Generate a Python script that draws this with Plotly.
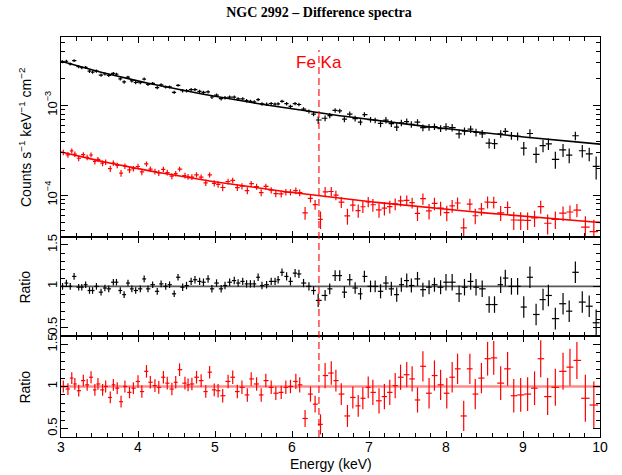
import numpy as np
import plotly.graph_objects as go
from plotly.subplots import make_subplots

# ---------------- data ----------------
energy_black = [3.02, 3.07, 3.12, 3.17, 3.23, 3.27, 3.32, 3.37, 3.41, 3.46, 3.52, 3.57, 3.62, 3.68, 3.72,
                3.77, 3.82, 3.87, 3.92, 3.97, 4.03, 4.08, 4.13, 4.19, 4.25, 4.30, 4.36, 4.41, 4.47, 4.52,
                4.58, 4.63, 4.69, 4.74, 4.80, 4.85, 4.91, 4.96, 5.02, 5.08, 5.13, 5.19, 5.25, 5.30, 5.36,
                5.41, 5.46, 5.51, 5.56, 5.61, 5.67, 5.73, 5.78, 5.82, 5.87, 5.93, 5.98, 6.04, 6.09, 6.15,
                6.22, 6.28, 6.34, 6.43, 6.49, 6.56, 6.62,
                6.68, 6.75, 6.82, 6.89, 6.94, 7.02, 7.08, 7.15, 7.22, 7.29, 7.36, 7.42, 7.49, 7.55, 7.63,
                7.70, 7.78, 7.85, 7.93, 8.00, 8.08, 8.17, 8.24, 8.32, 8.39, 8.47, 8.56, 8.63, 8.71, 8.77,
                8.85, 8.93, 9.01, 9.09, 9.17, 9.26, 9.33, 9.42, 9.52, 9.60, 9.68, 9.77, 9.86, 9.95]
ratio_black = [1.00, 1.04, 1.00, 1.12, 0.99, 0.99, 1.02, 0.95, 0.95, 1.00, 0.93, 0.98, 0.97, 1.05, 1.05,
               0.95, 0.90, 1.04, 0.97, 0.95, 0.97, 1.09, 0.97, 1.02, 0.94, 1.03, 1.00, 1.02, 0.91, 1.11,
               0.99, 1.01, 1.06, 1.08, 1.06, 1.05, 1.09, 0.97, 1.04, 0.97, 1.01, 1.05, 1.07, 1.04, 1.06,
               1.03, 1.03, 1.03, 1.11, 1.01, 1.02, 1.06, 1.06, 1.08, 1.17, 1.12, 1.06, 1.16, 1.15, 1.04,
               1.00, 0.95, 0.83, 0.89, 0.97, 1.13, 1.13,
               0.93, 1.08, 0.98, 0.91, 1.12, 1.00, 1.00, 0.94, 1.04, 0.97, 0.90, 1.02, 1.07, 1.01, 1.09,
               0.96, 0.99, 1.02, 0.99, 1.05, 1.05, 0.91, 0.99, 1.06, 0.99, 0.97, 0.78, 0.78, 1.02, 1.10,
               1.00, 1.00, 0.75, 1.11, 0.66, 0.84, 0.89, 0.61, 0.79, 0.70, 1.17, 0.81, 0.76, 0.56]
ratio_err_black = [0.04, 0.04, 0.04, 0.04, 0.04, 0.04, 0.04, 0.04, 0.04, 0.04, 0.04, 0.04, 0.04, 0.04, 0.04,
                   0.04, 0.04, 0.04, 0.04, 0.04, 0.04, 0.04, 0.04, 0.04, 0.04, 0.04, 0.04, 0.04, 0.04, 0.04,
                   0.045, 0.045, 0.045, 0.045, 0.045, 0.045, 0.045, 0.045, 0.045, 0.045, 0.045, 0.045, 0.045, 0.045, 0.045,
                   0.045, 0.045, 0.045, 0.045, 0.045, 0.045, 0.045, 0.045, 0.045, 0.045, 0.05, 0.05, 0.05, 0.05, 0.05,
                   0.05, 0.05, 0.08, 0.065, 0.065, 0.065, 0.065,
                   0.07, 0.07, 0.07, 0.07, 0.07, 0.07, 0.07, 0.085, 0.085, 0.085, 0.085, 0.085, 0.085, 0.085, 0.085,
                   0.085, 0.085, 0.085, 0.085, 0.10, 0.10, 0.10, 0.10, 0.10, 0.10, 0.10, 0.10, 0.10, 0.10, 0.10,
                   0.10, 0.10, 0.13, 0.13, 0.13, 0.13, 0.13, 0.13, 0.13, 0.13, 0.13, 0.13, 0.13, 0.16]

energy_red = [3.03, 3.09, 3.14, 3.18, 3.23, 3.29, 3.34, 3.39, 3.44, 3.48, 3.54, 3.58, 3.64, 3.68, 3.73,
              3.78, 3.83, 3.89, 3.94, 4.00, 4.05, 4.11, 4.16, 4.22, 4.27, 4.33, 4.38, 4.44, 4.49, 4.54,
              4.61, 4.65, 4.70, 4.76, 4.82, 4.88, 4.93, 4.99, 5.04, 5.10, 5.17, 5.23, 5.29, 5.35, 5.42,
              5.47, 5.54, 5.60, 5.66, 5.73, 5.79, 5.86, 5.92, 5.98, 6.05, 6.10, 6.17, 6.24, 6.30, 6.37,
              6.43, 6.51, 6.57,
              6.64, 6.72, 6.79, 6.86, 6.92, 6.99, 7.05, 7.13, 7.20, 7.27, 7.34, 7.41, 7.49, 7.56, 7.63,
              7.70, 7.78, 7.85, 7.93, 8.01, 8.08, 8.15, 8.23, 8.31, 8.38, 8.46, 8.54, 8.62, 8.71, 8.80,
              8.88, 8.97, 9.06, 9.15, 9.23, 9.32, 9.42, 9.52, 9.61, 9.70, 9.81, 9.92]
ratio_red = [1.00, 0.97, 1.10, 1.03, 0.95, 1.07, 1.02, 1.11, 0.96, 1.03, 0.96, 1.00, 0.87, 1.02, 0.98,
             0.82, 1.00, 0.93, 0.98, 1.06, 0.94, 1.18, 1.05, 1.01, 0.99, 1.11, 1.04, 0.97, 1.05, 1.20,
             1.04, 1.02, 1.03, 1.11, 1.07, 0.94, 1.17, 0.96, 0.95, 0.89, 1.06, 1.11, 0.94, 0.99, 0.90,
             1.09, 1.03, 0.90, 1.07, 0.99, 0.92, 0.93, 0.99, 1.00, 1.06, 1.02, 0.62, 0.91, 0.79, 0.55,
             1.13, 1.16, 1.07,
             0.91, 0.65, 0.87, 0.77, 0.86, 0.99, 0.93, 0.83, 0.88, 0.93, 1.01, 1.11, 1.14, 1.09, 0.84,
             1.24, 0.92, 1.13, 1.02, 0.92, 1.11, 1.21, 0.65, 1.21, 0.91, 1.10, 1.33, 1.34, 1.04, 1.21,
             0.89, 0.90, 0.91, 0.98, 1.33, 0.88, 0.99, 1.18, 1.23, 1.31, 0.86, 0.78]
ratio_err_red = [0.07, 0.07, 0.07, 0.07, 0.07, 0.07, 0.07, 0.07, 0.07, 0.07, 0.07, 0.07, 0.07, 0.07, 0.07,
                 0.07, 0.07, 0.07, 0.07, 0.075, 0.075, 0.075, 0.075, 0.075, 0.075, 0.075, 0.075, 0.075, 0.075, 0.075,
                 0.075, 0.075, 0.075, 0.075, 0.075, 0.075, 0.075, 0.075, 0.08, 0.08, 0.08, 0.08, 0.08, 0.08, 0.08,
                 0.08, 0.08, 0.08, 0.08, 0.08, 0.08, 0.08, 0.08, 0.08, 0.09, 0.09, 0.10, 0.09, 0.10, 0.12,
                 0.15, 0.14, 0.13,
                 0.13, 0.13, 0.13, 0.13, 0.13, 0.13, 0.15, 0.15, 0.15, 0.15, 0.15, 0.15, 0.15, 0.15, 0.15,
                 0.18, 0.18, 0.18, 0.18, 0.18, 0.18, 0.18, 0.18, 0.18, 0.18, 0.18, 0.20, 0.20, 0.20, 0.20,
                 0.20, 0.20, 0.20, 0.20, 0.22, 0.22, 0.22, 0.22, 0.22, 0.22, 0.28, 0.28]

# power-law model levels read at the two ends of the energy range (counts s^-1 keV^-1 cm^-2)
model_black_at_3kev = 3.1e-3
model_black_at_10kev = 3.7e-4
model_red_at_3kev = 3.03e-4
model_red_at_10kev = 4.97e-5

energy_range = [3, 10]
ratio_unity = 1.0
fe_line_energy = 6.35
fe_label = "Fe Ka"
x_tick_values = [3, 4, 5, 6, 7, 8, 9, 10]
log_tick_values = [1e-4, 1e-3]
log_tick_text = ["10<sup>\u22124</sup>", "10<sup>\u22123</sup>"]
ratio_tick_values = [0.5, 1, 1.5]
ratio_tick_text = ["0.5", "1", "1.5"]


def power_law(e, m_lo, m_hi):
    e = np.asarray(e, dtype=float)
    index = np.log(m_hi / m_lo) / np.log(energy_range[1] / energy_range[0])
    return m_lo * (e / energy_range[0]) ** index


def half_widths(e):
    e = np.asarray(e, dtype=float)
    mids = (e[1:] + e[:-1]) / 2
    lo_edge = max(energy_range[0], 2 * e[0] - mids[0])
    hi_edge = min(energy_range[1], 2 * e[-1] - mids[-1])
    edges = np.concatenate([[lo_edge], mids, [hi_edge]])
    return edges[1:] - e, e - edges[:-1]


BLACK = "#000000"
RED = "#ff0000"
FONT = "Liberation Sans, Arial, Helvetica, sans-serif"

fig = make_subplots(rows=3, cols=1, shared_xaxes=True, vertical_spacing=0,
                    row_heights=[0.4993, 0.2482, 0.2525])

series = [
    (energy_black, ratio_black, ratio_err_black, model_black_at_3kev, model_black_at_10kev, BLACK, 2,
     "rgba(70,70,70,0.9)", 1.6),
    (energy_red, ratio_red, ratio_err_red, model_red_at_3kev, model_red_at_10kev, RED, 3,
     "rgba(255,60,60,0.6)", 2.6),
]

for e, r, rerr, m3, m10, col, ratio_row, ratio_line_col, ratio_line_w in series:
    e_arr = np.asarray(e)
    r_arr = np.asarray(r)
    err_arr = np.asarray(rerr)
    model_at_bins = power_law(e_arr, m3, m10)
    xp, xm = half_widths(e_arr)
    # model curve
    e_curve = np.concatenate([[energy_range[0]], e_arr, [energy_range[1]]])
    fig.add_trace(go.Scatter(x=e_curve, y=power_law(e_curve, m3, m10), mode="lines",
                             line=dict(color=col, width=1.6), hoverinfo="skip"), row=1, col=1)
    # spectrum data
    fig.add_trace(go.Scatter(
        x=e_arr, y=model_at_bins * r_arr, mode="markers",
        marker=dict(size=1, color=col, opacity=0),
        error_x=dict(type="data", array=xp, arrayminus=xm, color=col, thickness=1.2, width=0),
        error_y=dict(type="data", array=model_at_bins * err_arr, color=col, thickness=1.2, width=0),
    ), row=1, col=1)
    # ratio reference line
    fig.add_trace(go.Scatter(x=energy_range, y=[ratio_unity, ratio_unity], mode="lines",
                             line=dict(color=ratio_line_col, width=ratio_line_w), hoverinfo="skip"),
                  row=ratio_row, col=1)
    # ratio data
    fig.add_trace(go.Scatter(
        x=e_arr, y=r_arr, mode="markers",
        marker=dict(size=1, color=col, opacity=0),
        error_x=dict(type="data", array=xp, arrayminus=xm, color=col, thickness=1.2, width=0),
        error_y=dict(type="data", array=err_arr, color=col, thickness=1.2, width=0),
    ), row=ratio_row, col=1)

axis_common = dict(showline=True, linecolor=BLACK, linewidth=1.2, mirror="ticks",
                   ticks="inside", tickcolor=BLACK, showgrid=False, zeroline=False)

for i in (1, 2, 3):
    fig.update_xaxes(range=energy_range, tickmode="array", tickvals=x_tick_values, ticklen=6,
                     tickwidth=1.2, ticklabelstandoff=-3,
                     minor=dict(ticks="inside", ticklen=3.5, dtick=0.2, tick0=3, tickcolor=BLACK,
                                showgrid=False),
                     tickfont=dict(family=FONT, size=14, color=BLACK),
                     row=i, col=1, **axis_common)

minor_log = [m * 10.0 ** p for p in (-5, -4, -3) for m in range(2, 10)]
fig.update_yaxes(type="log", range=[-4.463, -2.239], tickmode="array", tickvals=log_tick_values,
                 ticktext=log_tick_text, tickangle=-90, ticklen=7, tickwidth=1.2,
                 ticklabelstandoff=-2,
                 minor=dict(ticks="inside", ticklen=4, tickmode="array", tickvals=minor_log,
                            tickcolor=BLACK, showgrid=False),
                 tickfont=dict(family=FONT, size=13, color=BLACK),
                 row=1, col=1, **axis_common)
for i in (2, 3):
    fig.update_yaxes(range=[0.4, 1.6], tickmode="array", tickvals=ratio_tick_values,
                     ticktext=ratio_tick_text, tickangle=-90, ticklen=7, tickwidth=1.2,
                     ticklabelstandoff=-2,
                     minor=dict(ticks="inside", ticklen=4, dtick=0.1, tick0=0.4, tickcolor=BLACK,
                                showgrid=False),
                     tickfont=dict(family=FONT, size=13, color=BLACK),
                     row=i, col=1, **axis_common)

fig.add_shape(type="line", xref="x", yref="paper", x0=fe_line_energy, x1=fe_line_energy,
              y0=0, y1=0.9675, line=dict(color=RED, width=1.1, dash="7px,4px"), layer="above")

annotations = [
    dict(text=fe_label, x=fe_line_energy, xref="x", y=0.9375, yref="paper", showarrow=False,
         xanchor="center", yanchor="middle", font=dict(family=FONT, size=17, color=RED)),
    dict(text="Counts s<sup>\u22121</sup> keV<sup>\u22121</sup> cm<sup>\u22122</sup>",
         x=-0.0668, xref="paper", y=0.75, yref="paper", textangle=-90, showarrow=False,
         xanchor="center", yanchor="middle", font=dict(family=FONT, size=14, color=BLACK)),
    dict(text="Ratio", x=-0.0668, xref="paper", y=0.376, yref="paper", textangle=-90,
         showarrow=False, xanchor="center", yanchor="middle",
         font=dict(family=FONT, size=14, color=BLACK)),
    dict(text="Ratio", x=-0.0668, xref="paper", y=0.126, yref="paper", textangle=-90,
         showarrow=False, xanchor="center", yanchor="middle",
         font=dict(family=FONT, size=14, color=BLACK)),
    dict(text="Energy (keV)", x=0.5, xref="paper", y=-0.0675, yref="paper", showarrow=False,
         xanchor="center", yanchor="middle", font=dict(family=FONT, size=14, color=BLACK)),
]

fig.update_layout(
    width=622, height=475,
    margin=dict(l=61, r=22, t=37, b=38),
    paper_bgcolor="white", plot_bgcolor="white",
    showlegend=False,
    title=dict(text="<b>NGC 2992 \u2013 Difference spectra</b>", x=319 / 622, xanchor="center",
               y=1 - 12 / 475, yanchor="middle", xref="container", yref="container",
               font=dict(family="Liberation Serif, Times New Roman, serif", size=14, color=BLACK)),
    annotations=annotations,
)

fig.write_html("out.html", config={"displayModeBar": False},
               post_script="document.body.style.margin='0';document.body.style.overflow='hidden';")
